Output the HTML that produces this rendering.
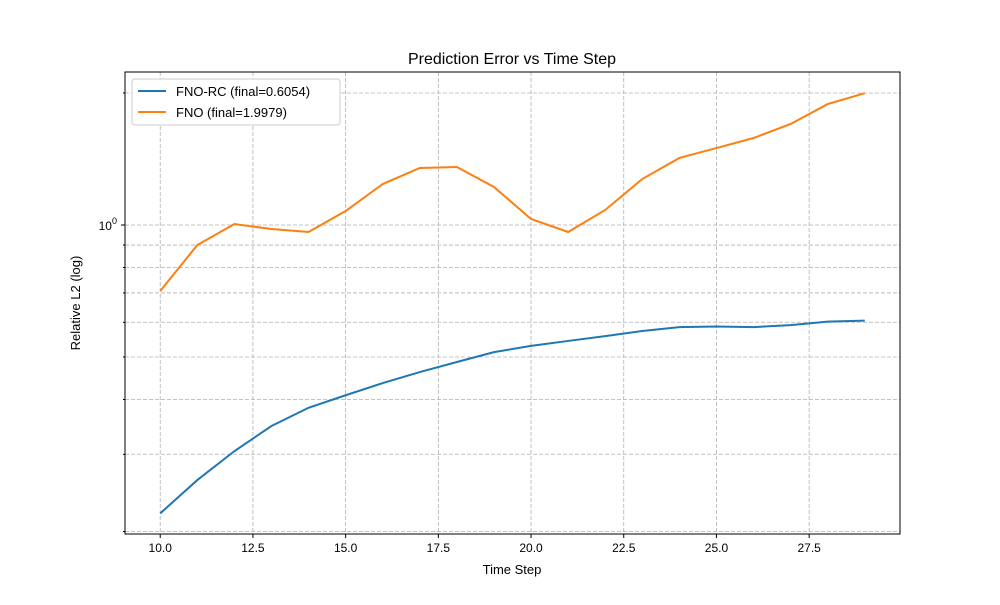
<!DOCTYPE html>
<html><head><meta charset="utf-8"><style>
body{margin:0;background:#fff;font-family:"Liberation Sans","DejaVu Sans",sans-serif}
</style></head><body>
<svg id="chart" width="1000" height="600" xmlns="http://www.w3.org/2000/svg">
<rect width="1000" height="600" fill="#fff"/>
<text x="512" y="64" text-anchor="middle" font-size="16">Prediction Error vs Time Step</text>
<g id="grid"></g>
<g id="axes"></g>
<g id="series"></g>
<text x="512" y="574" text-anchor="middle" font-size="13">Time Step</text>
<text transform="translate(80,303) rotate(-90)" text-anchor="middle" font-size="13">Relative L2 (log)</text>
<g>
<rect x="132" y="79" width="208" height="46" rx="3" fill="#fff" stroke="#ccc"/>
<line x1="138" y1="91" x2="166" y2="91" stroke="#1f77b4" stroke-width="2"/>
<text x="176" y="96" font-size="13">FNO-RC (final=0.6054)</text>
<line x1="138" y1="112" x2="166" y2="112" stroke="#ff7f0e" stroke-width="2"/>
<text x="176" y="117" font-size="13">FNO (final=1.9979)</text>
</g>
</svg>
<script>
const steps=[10,11,12,13,14,15,16,17,18,19,20,21,22,23,24,25,26,27,28,29];
const fnoRC=[0.220,0.262,0.305,0.348,0.383,0.409,0.436,0.462,0.487,0.513,0.530,0.544,0.558,0.573,0.585,0.587,0.585,0.591,0.602,0.6054];
const fno=[0.707,0.900,1.005,0.979,0.964,1.076,1.240,1.349,1.356,1.221,1.032,0.964,1.082,1.273,1.422,1.498,1.579,1.700,1.887,1.9979];
const xTicks=[10,12.5,15,17.5,20,22.5,25,27.5];
const yMinor=[0.2,0.3,0.4,0.5,0.6,0.7,0.8,0.9,2];
const NS="http://www.w3.org/2000/svg";
const L=125,R=900,T=72,B=534;
function x(v){return L+(v-9.05)*(R-L)/20.9;}
function y(v){return 225-438.5*Math.log10(v);}
function mk(t,a,p){const e=document.createElementNS(NS,t);for(const k in a)e.setAttribute(k,a[k]);p.appendChild(e);return e;}
const g=document.getElementById('grid'),ax=document.getElementById('axes'),s=document.getElementById('series');
xTicks.forEach(v=>{
 const l=mk('line',{x1:x(v),x2:x(v),y1:T,y2:B,stroke:'#b0b0b0','stroke-dasharray':'4,2','stroke-width':0.8},g);
 
 
 mk('line',{x1:x(v),x2:x(v),y1:B,y2:B+4,stroke:'#000'},ax);
 const t=mk('text',{x:x(v),y:B+18,'text-anchor':'middle','font-size':12},ax);t.textContent=v.toFixed(1);
 
 
});
yMinor.concat([1]).forEach(v=>{
 const l=mk('line',{x1:L,x2:R,y1:y(v),y2:y(v),stroke:'#b0b0b0','stroke-dasharray':'4,2','stroke-width':0.8},g);
 
 
 mk('line',{x1:L-(v===1?4:2),x2:L,y1:y(v),y2:y(v),stroke:'#000'},ax);
});
const yl=mk('text',{x:L-8,y:y(1)+5,'text-anchor':'end','font-size':12},ax);
yl.innerHTML='10<tspan dy="-6" font-size="9">0</tspan>';


const fr=mk('rect',{x:L,y:T,width:R-L,height:B-T,fill:'none',stroke:'#000','stroke-width':1},ax);


function line(d,c,n){const p=mk('polyline',{points:steps.map((v,i)=>x(v)+','+y(d[i])).join(' '),fill:'none',stroke:c,'stroke-width':2},s);
 
 }
line(fnoRC,'#1f77b4','fno-rc-line');
line(fno,'#ff7f0e','fno-line');
</script>
</body></html>
